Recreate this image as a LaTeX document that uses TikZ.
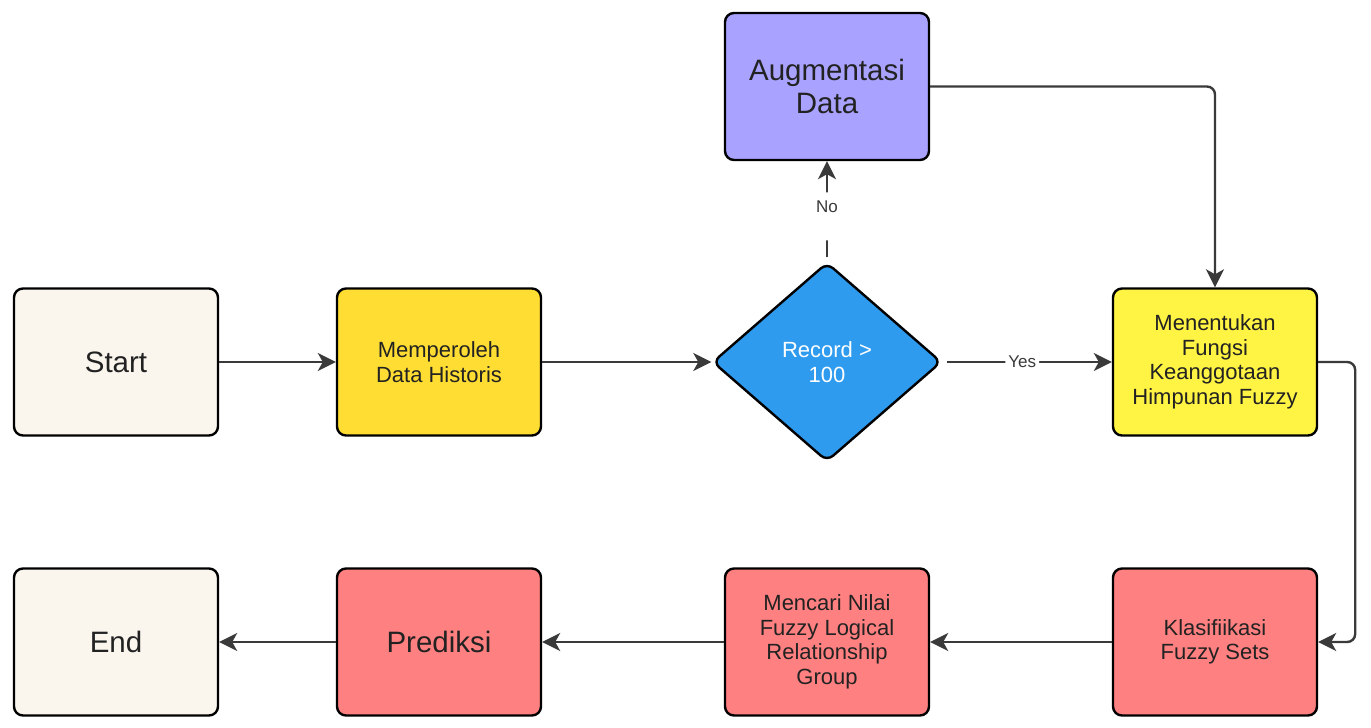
\documentclass[tikz,border=0pt]{standalone}
\usepackage{fontspec}
\setmainfont{Liberation Sans}
\usetikzlibrary{shapes.geometric,arrows.meta}
\definecolor{cream}{HTML}{FAF6EE}
\definecolor{gold}{HTML}{FFDD33}
\definecolor{lemon}{HTML}{FFF344}
\definecolor{sky}{HTML}{2E9BEF}
\definecolor{lilac}{HTML}{A9A3FF}
\definecolor{salmon}{HTML}{FF8080}
\definecolor{ink}{HTML}{222222}
\definecolor{wire}{HTML}{3A3A3A}

\begin{document}
\begin{tikzpicture}[x=1pt,y=-1pt,
	box/.style={draw=black,line width=2.4pt,rounded corners=9pt,minimum width=204pt,minimum height=147pt,align=center,text=ink,inner sep=0pt},
	big/.style={font=\fontsize{29.5}{33}\selectfont},
	mid/.style={font=\fontsize{22}{24.5}\selectfont},
	flow/.style={draw=wire,line width=2.4pt,-{Stealth[length=18pt,width=18pt,inset=5pt]},rounded corners=8pt},
	lbl/.style={fill=white,text=wire,inner sep=3pt,font=\fontsize{17}{18}\selectfont}]
	\useasboundingbox (0,0) rectangle (1371,728);
	\node[box,big,fill=cream] (start) at (116,362) {Start};
	\node[box,mid,fill=gold] (data) at (439,362) {Memperoleh\\Data Historis};
	\node[draw=black,line width=2.4pt,rounded corners=8pt,shape=diamond,fill=sky,text=white,align=center,inner sep=0pt,minimum width=229pt,minimum height=199pt,mid] (cek) at (827,362) {Record >\\100};
	\node[box,big,fill=lilac] (aug) at (827,86.5) {Augmentasi\\Data};
	\node[box,mid,fill=lemon] (fuzzy) at (1215,362) {Menentukan\\Fungsi\\Keanggotaan\\Himpunan Fuzzy};
	\node[box,mid,fill=salmon] (kls) at (1215,642) {Klasifiikasi\\Fuzzy Sets};
	\node[box,mid,fill=salmon] (flrg) at (827,642) {Mencari Nilai\\Fuzzy Logical\\Relationship\\Group};
	\node[box,big,fill=salmon] (pred) at (439,642) {Prediksi};
	\node[box,big,fill=cream] (stop) at (116,642) {End};
	\draw[flow] (start) -- (data);
	\draw[flow] (data) -- (cek.west);
	\draw[flow,shorten <=4pt] (cek.east) -- node[lbl,pos=0.47]{Yes} (fuzzy);
	\draw[flow,shorten <=4pt] (cek.north) -- node[lbl,pos=0.70,anchor=north,inner sep=2pt,text height=18pt,text depth=26pt]{No} (aug);
	\draw[flow] (aug.east) -| (fuzzy.north);
	\draw[flow] (fuzzy.east) -- ++(37,0) |- (kls.east);
	\draw[flow] (kls) -- (flrg);
	\draw[flow] (flrg) -- (pred);
	\draw[flow] (pred) -- (stop);
\end{tikzpicture}
\end{document}
